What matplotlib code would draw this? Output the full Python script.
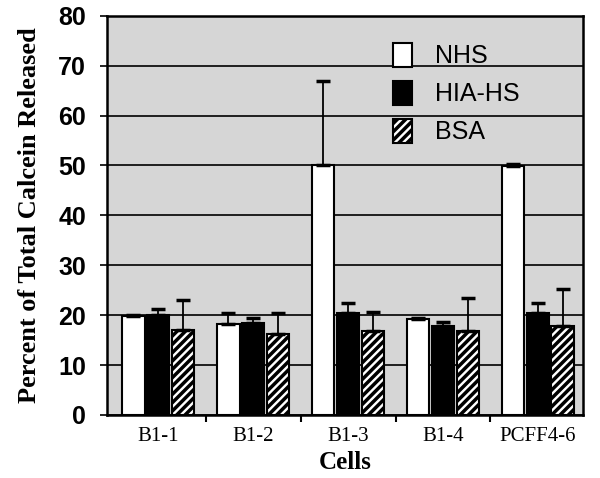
import matplotlib
matplotlib.use("Agg")
import matplotlib.pyplot as plt
import numpy as np
from matplotlib.patches import Patch

categories = ["B1-1", "B1-2", "B1-3", "B1-4", "PCFF4-6"]
series_names = ["NHS", "HIA-HS", "BSA"]
nhs = [19.8, 18.2, 50.0, 19.2, 49.8]
nhs_err = [0.3, 2.2, 17.0, 0.3, 0.4]
hia = [20.0, 18.4, 20.4, 17.8, 20.4]
hia_err = [1.2, 1.1, 2.0, 0.8, 2.0]
bsa = [17.0, 16.2, 16.9, 16.9, 17.8]
bsa_err = [6.0, 4.2, 3.7, 6.5, 7.4]
yticks = [0, 10, 20, 30, 40, 50, 60, 70, 80]

plt.rcParams["hatch.linewidth"] = 2.5
fig = plt.figure(figsize=(6.0, 4.78), dpi=100)
ax = fig.add_axes([0.178, 0.132, 0.793, 0.835])
ax.set_facecolor("#d6d6d6")

x = np.arange(len(categories))
w = 0.235
off = 0.26
for vals, errs, dx, fc, hatch in [(nhs, nhs_err, -off, "white", None),
                                  (hia, hia_err, 0, "black", None),
                                  (bsa, bsa_err, off, "white", "////")]:
    ax.bar(x + dx, vals, width=w, color=fc, edgecolor="black", linewidth=1.5,
           hatch=hatch, zorder=3,
           yerr=[np.zeros(len(vals)), errs],
           error_kw=dict(ecolor="black", elinewidth=1.3, capsize=5, capthick=2.5, zorder=4))

ax.set_ylim(0, 80)
ax.set_xlim(-0.54, 4.47)
ax.set_yticks(yticks)
ax.yaxis.grid(True, color="black", linewidth=1.2, zorder=1)
ax.set_axisbelow(True)
ax.set_yticklabels([str(t) for t in yticks], fontfamily="Liberation Sans",
                   fontweight="bold", fontsize=18)
ax.set_xticks(x)
ax.set_xticklabels(categories, fontfamily="Liberation Serif", fontsize=15)
ax.tick_params(axis="x", length=0, pad=9)
ax.set_xticks(np.arange(0.5, len(categories) - 1, 1.0), minor=True)
ax.tick_params(axis="x", which="minor", length=5, width=1.5, direction="out")
ax.tick_params(axis="y", length=5, width=1.2, direction="out", pad=10)
for s in ax.spines.values():
    s.set_linewidth(1.8)

ax.set_ylabel("Percent of Total Calcein Released", fontfamily="Liberation Serif",
              fontweight="bold", fontsize=19, labelpad=12)
ax.set_xlabel("Cells", fontfamily="Liberation Serif", fontweight="bold",
              fontsize=18, labelpad=3)

handles = [Patch(facecolor="white", edgecolor="black", linewidth=1.5),
           Patch(facecolor="black", edgecolor="black", linewidth=1.5),
           Patch(facecolor="white", edgecolor="black", linewidth=1.5, hatch="////")]
ax.legend(handles, series_names, frameon=False, loc="upper left",
          bbox_to_anchor=(0.58, 0.958), prop=dict(family="Liberation Sans", size=18),
          handlelength=0.75, handleheight=1.1, handletextpad=0.95, labelspacing=0.5,
          borderaxespad=0)

fig.savefig("out.png", dpi=100)
